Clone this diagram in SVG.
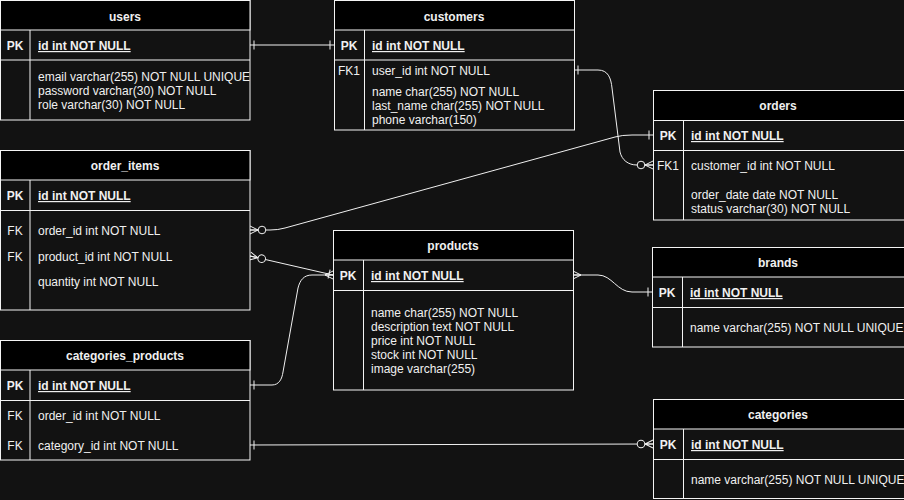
<svg xmlns="http://www.w3.org/2000/svg" width="904" height="500" viewBox="0 0 904 500">
<defs>
<style>
.tbl{fill:#121212;stroke:#f4f4f4;stroke-width:1}
.hdr{fill:#000000;stroke:#f4f4f4;stroke-width:1}
.ln{stroke:#f4f4f4;stroke-width:1;fill:none}
text{font-family:"Liberation Sans",Arial,sans-serif;font-size:12px;fill:#f0f0f0;transform:translate(0px,1px)}
.t{font-weight:bold;text-anchor:middle}
.k{font-weight:bold;text-anchor:middle}
.kn{text-anchor:middle}
.pk{font-weight:bold;text-decoration:underline}
.c{fill:none;stroke:#f0f0f0;stroke-width:1}
</style>
<marker id="one" markerUnits="userSpaceOnUse" markerWidth="1" markerHeight="1" refX="0" refY="0" orient="auto-start-reverse" overflow="visible">
<path d="M-4,-4.5 L-4,4.5" stroke="#f0f0f0" stroke-width="1" fill="none"/>
</marker>
<marker id="many" markerUnits="userSpaceOnUse" markerWidth="1" markerHeight="1" refX="0" refY="0" orient="auto-start-reverse" overflow="visible">
<path d="M0,-4 L-8,0 L0,4 M-8,0 L0,0" stroke="#f0f0f0" stroke-width="1" fill="none"/>
</marker>
<marker id="zmany" markerUnits="userSpaceOnUse" markerWidth="1" markerHeight="1" refX="0" refY="0" orient="auto-start-reverse" overflow="visible">
<path d="M0,-4 L-8,0 L0,4 M-8,0 L0,0" stroke="#f0f0f0" stroke-width="1" fill="none"/>
<circle cx="-12" cy="0" r="3.8" fill="#121212" stroke="#f0f0f0" stroke-width="1"/>
</marker>
</defs>
<rect x="0" y="0" width="904" height="500" fill="#121212"/>

<g id="connectors">
<path class="c" d="M250,45 L334,45" marker-start="url(#one)" marker-end="url(#one)"/>
<path class="c" d="M574,70 L598,70 C608,70 611,78 612,88 L620,152 C622,160 628,165 637,165 L653,165" marker-start="url(#one)" marker-end="url(#zmany)"/>
<path class="c" d="M250,230 L270,230 Q278,230 285,228 L615,137 Q622,135 632,135 L653,135" marker-start="url(#zmany)" marker-end="url(#one)"/>
<path class="c" d="M250,256 L333,275" marker-start="url(#zmany)" marker-end="url(#one)"/>
<path class="c" d="M250,385 L272,385 C279,385 282,379 283,372 L298,288 C300,280 304,275 312,275 L333,275" marker-start="url(#one)" marker-end="url(#many)"/>
<path class="c" d="M573,275 L598,275 C612,275 617,292 632,292 L652,292" marker-start="url(#many)" marker-end="url(#one)"/>
<path class="c" d="M250,445 L653,444" marker-start="url(#one)" marker-end="url(#zmany)"/>
</g>

<g id="users">
<rect class="tbl" x="0.5" y="0.5" width="249.5" height="119.5"/>
<rect class="hdr" x="0.5" y="0.5" width="249.5" height="29.5"/>
<line class="ln" x1="0.5" y1="60" x2="250" y2="60"/>
<line class="ln" x1="30" y1="30" x2="30" y2="120"/>
<text class="t" x="125" y="20">users</text>
<text class="k" x="15" y="49">PK</text>
<text class="pk" x="38" y="49">id int NOT NULL</text>
<text x="38" y="80">email varchar(255) NOT NULL UNIQUE</text>
<text x="38" y="94">password varchar(30) NOT NULL</text>
<text x="38" y="108">role varchar(30) NOT NULL</text>
</g>

<g id="customers">
<rect class="tbl" x="334.5" y="0.5" width="240" height="129.5"/>
<rect class="hdr" x="334.5" y="0.5" width="240" height="29.5"/>
<line class="ln" x1="334.5" y1="60" x2="574.5" y2="60"/>
<line class="ln" x1="364.5" y1="30" x2="364.5" y2="130"/>
<text class="t" x="454" y="20">customers</text>
<text class="k" x="349" y="49">PK</text>
<text class="pk" x="372" y="49">id int NOT NULL</text>
<text class="kn" x="349" y="74">FK1</text>
<text x="372" y="74">user_id int NOT NULL</text>
<text x="372" y="95">name char(255) NOT NULL</text>
<text x="372" y="109">last_name char(255) NOT NULL</text>
<text x="372" y="123">phone varchar(150)</text>
</g>

<g id="orders">
<rect class="tbl" x="653.5" y="90.5" width="260" height="129.5"/>
<rect class="hdr" x="653.5" y="90.5" width="260" height="30"/>
<line class="ln" x1="653.5" y1="150.5" x2="904" y2="150.5"/>
<line class="ln" x1="683.5" y1="120.5" x2="683.5" y2="220"/>
<text class="t" x="778" y="109">orders</text>
<text class="k" x="668" y="139">PK</text>
<text class="pk" x="691" y="139">id int NOT NULL</text>
<text class="kn" x="668" y="169">FK1</text>
<text x="691" y="169">customer_id int NOT NULL</text>
<text x="691" y="198">order_date date NOT NULL</text>
<text x="691" y="212">status varchar(30) NOT NULL</text>
</g>

<g id="order_items">
<rect class="tbl" x="0.5" y="150.5" width="249.5" height="159.5"/>
<rect class="hdr" x="0.5" y="150.5" width="249.5" height="29.5"/>
<line class="ln" x1="0.5" y1="210.5" x2="250" y2="210.5"/>
<line class="ln" x1="30" y1="180" x2="30" y2="310"/>
<text class="t" x="125" y="169">order_items</text>
<text class="k" x="15" y="199">PK</text>
<text class="pk" x="38" y="199">id int NOT NULL</text>
<text class="kn" x="15" y="234">FK</text>
<text x="38" y="234">order_id int NOT NULL</text>
<text class="kn" x="15" y="260">FK</text>
<text x="38" y="260">product_id int NOT NULL</text>
<text x="38" y="285">quantity int NOT NULL</text>
</g>

<g id="products">
<rect class="tbl" x="333.5" y="230.5" width="240" height="159.5"/>
<rect class="hdr" x="333.5" y="230.5" width="240" height="29.5"/>
<line class="ln" x1="333.5" y1="290.5" x2="573.5" y2="290.5"/>
<line class="ln" x1="363.5" y1="260" x2="363.5" y2="390"/>
<text class="t" x="453" y="249">products</text>
<text class="k" x="348" y="279">PK</text>
<text class="pk" x="371" y="279">id int NOT NULL</text>
<text x="371" y="316">name char(255) NOT NULL</text>
<text x="371" y="330">description text NOT NULL</text>
<text x="371" y="344">price int NOT NULL</text>
<text x="371" y="358">stock int NOT NULL</text>
<text x="371" y="372">image varchar(255)</text>
</g>

<g id="brands">
<rect class="tbl" x="652.5" y="247.5" width="260" height="99.5"/>
<rect class="hdr" x="652.5" y="247.5" width="260" height="29.5"/>
<line class="ln" x1="652.5" y1="307.5" x2="904" y2="307.5"/>
<line class="ln" x1="682.5" y1="277" x2="682.5" y2="347"/>
<text class="t" x="778" y="266">brands</text>
<text class="k" x="667" y="296">PK</text>
<text class="pk" x="690" y="296">id int NOT NULL</text>
<text x="690" y="331">name varchar(255) NOT NULL UNIQUE</text>
</g>

<g id="categories_products">
<rect class="tbl" x="0.5" y="340.5" width="249.5" height="119.5"/>
<rect class="hdr" x="0.5" y="340.5" width="249.5" height="29.5"/>
<line class="ln" x1="0.5" y1="400.5" x2="250" y2="400.5"/>
<line class="ln" x1="30" y1="370" x2="30" y2="460"/>
<text class="t" x="125" y="359">categories_products</text>
<text class="k" x="15" y="389">PK</text>
<text class="pk" x="38" y="389">id int NOT NULL</text>
<text class="kn" x="15" y="419">FK</text>
<text x="38" y="419">order_id int NOT NULL</text>
<text class="kn" x="15" y="449">FK</text>
<text x="38" y="449">category_id int NOT NULL</text>
</g>

<g id="categories">
<rect class="tbl" x="653.5" y="399.5" width="260" height="99"/>
<rect class="hdr" x="653.5" y="399.5" width="260" height="29.5"/>
<line class="ln" x1="653.5" y1="459.5" x2="904" y2="459.5"/>
<line class="ln" x1="683.5" y1="429" x2="683.5" y2="499"/>
<text class="t" x="778" y="418">categories</text>
<text class="k" x="668" y="448">PK</text>
<text class="pk" x="691" y="448">id int NOT NULL</text>
<text x="691" y="483">name varchar(255) NOT NULL UNIQUE</text>
</g>
</svg>
